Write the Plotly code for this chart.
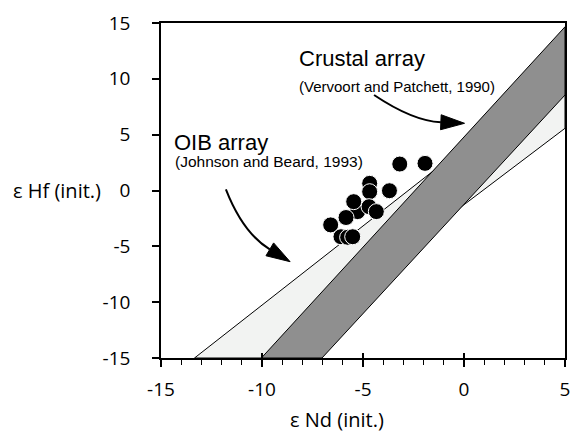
import plotly.graph_objects as go

# --- data -----------------------------------------------------------------
# Sample compositions (initial epsilon Nd / epsilon Hf)
eps_nd = [-3.18, -1.93, -4.67, -4.67, -3.69, -5.27, -5.46, -4.70, -4.34,
          -5.84, -6.60, -6.09, -5.76, -5.51]
eps_hf = [2.37, 2.43, 0.64, -0.11, -0.02, -1.89, -1.00, -1.45, -1.89,
          -2.42, -3.08, -4.14, -4.19, -4.14]

# OIB array (Johnson and Beard, 1993) outline
oib_nd = [-13.34, -10.03, 5.0, 5.0, -13.34]
oib_hf = [-15.0, -15.0, 5.57, 11.0, -15.0]

# Crustal array (Vervoort and Patchett, 1990) outline
crust_nd = [-10.03, -7.03, 5.0, 5.0, -10.03]
crust_hf = [-15.0, -15.0, 8.55, 14.66, -15.0]

x_ticks = [-15, -10, -5, 0, 5]
x_tick_labels = ["-15", "-10", "-5", "0", "5"]
y_ticks = [-15, -10, -5, 0, 5, 10, 15]
y_tick_labels = ["-15", "-10", "-5", "0", "5", "10", "15"]

# --- geometry of the plotting area ------------------------------------------
W, H = 575, 435
ML, MR, MT, MB = 161, 5, 23, 77
X_RANGE = [-15, 5]
Y_RANGE = [-15, 15]
PW, PH = W - ML - MR, H - MT - MB


def to_data(px, py):
    """Convert a page pixel position to axis coordinates."""
    x = X_RANGE[0] + (px - ML) / PW * (X_RANGE[1] - X_RANGE[0])
    y = Y_RANGE[1] - (py - MT) / PH * (Y_RANGE[1] - Y_RANGE[0])
    return x, y


def curved_arrow(start, ctrl, tip, head_len=24, head_half=7.5):
    """Quadratic curve with a slim filled head, built in pixel space."""
    dx, dy = tip[0] - ctrl[0], tip[1] - ctrl[1]
    n = (dx * dx + dy * dy) ** 0.5
    ux, uy = dx / n, dy / n
    base = (tip[0] - ux * head_len, tip[1] - uy * head_len)
    c1 = (base[0] - uy * head_half, base[1] + ux * head_half)
    c2 = (base[0] + uy * head_half, base[1] - ux * head_half)

    def p(pt):
        x, y = to_data(*pt)
        return f"{x:.4f},{y:.4f}"

    curve = dict(type="path", xref="x", yref="y",
                 path=f"M {p(start)} Q {p(ctrl)} {p(base)}",
                 line=dict(color="black", width=2))
    head = dict(type="path", xref="x", yref="y",
                path=f"M {p(c1)} L {p(tip)} L {p(c2)} Z",
                fillcolor="black", line=dict(color="black", width=1))
    return [curve, head]


fig = go.Figure()

fig.add_trace(go.Scatter(
    x=oib_nd, y=oib_hf, mode="lines", fill="toself",
    fillcolor="#f2f3f2", line=dict(color="black", width=1),
    hoverinfo="skip", showlegend=False))

fig.add_trace(go.Scatter(
    x=crust_nd, y=crust_hf, mode="lines", fill="toself",
    fillcolor="#8f8f8f", line=dict(color="black", width=1),
    hoverinfo="skip", showlegend=False))

fig.add_trace(go.Scatter(
    x=eps_nd, y=eps_hf, mode="markers",
    marker=dict(size=16, color="black", line=dict(color="white", width=1)),
    showlegend=False))

# empty trace on the overlay axis that carries the inward half of major ticks
fig.add_trace(go.Scatter(x=[None], y=[None], xaxis="x2", yaxis="y",
                         showlegend=False, hoverinfo="skip"))

tick_font = dict(family="Open Sans", size=19, color="black")
label_font = dict(family="Liberation Sans, Arial", color="black")

shapes = []
shapes += curved_arrow(start=(226.7, 189.3), ctrl=(244.0, 233.0), tip=(291.7, 261.7))
shapes += curved_arrow(start=(376.7, 95.0), ctrl=(416.0, 121.0), tip=(468.3, 123.3))

annotations = [
    dict(x=-8.25, y=11.84, xref="x", yref="y", text="Crustal array",
         xanchor="left", yanchor="middle", showarrow=False,
         font=dict(size=22, **label_font)),
    dict(x=-8.25, y=9.31, xref="x", yref="y", text="(Vervoort and Patchett, 1990)",
         xanchor="left", yanchor="middle", showarrow=False,
         font=dict(size=15, **label_font)),
    dict(x=-14.45, y=4.3, xref="x", yref="y", text="OIB array",
         xanchor="left", yanchor="middle", showarrow=False,
         font=dict(size=22, **label_font)),
    dict(x=-14.4, y=2.6, xref="x", yref="y", text="(Johnson and Beard, 1993)",
         xanchor="left", yanchor="middle", showarrow=False,
         font=dict(size=15.5, **label_font)),
    dict(x=(9 - ML) / PW, y=0, xref="paper", yref="y", text="ε Hf (init.)",
         xanchor="left", yanchor="middle", showarrow=False,
         font=dict(family="Open Sans", size=20, color="black")),
    dict(x=(339 - ML) / PW, y=(H - MB - 419) / PH, xref="paper", yref="paper",
         text="ε Nd (init.)", xanchor="center", yanchor="middle", showarrow=False,
         font=dict(family="Open Sans", size=20, color="black")),
]

fig.update_layout(
    width=W, height=H,
    margin=dict(l=ML, r=MR, t=MT, b=MB),
    paper_bgcolor="white", plot_bgcolor="white",
    showlegend=False,
    shapes=shapes,
    annotations=annotations,
    xaxis=dict(
        range=X_RANGE, tickvals=x_ticks, ticktext=x_tick_labels,
        ticks="outside", ticklen=7, tickwidth=1.5, tickcolor="black",
        minor=dict(dtick=1, tick0=0, ticks="outside", ticklen=5,
                   tickwidth=1.2, tickcolor="black"),
        showline=True, linecolor="black", linewidth=1.5, mirror=True,
        showgrid=False, zeroline=False, tickfont=tick_font,
        ticklabelstandoff=6, fixedrange=True,
    ),
    xaxis2=dict(
        range=X_RANGE, overlaying="x", anchor="y", side="bottom",
        tickvals=x_ticks, ticks="inside", ticklen=5, tickwidth=1.5,
        tickcolor="black", showticklabels=False, showline=False,
        showgrid=False, zeroline=False, fixedrange=True,
    ),
    yaxis=dict(
        range=Y_RANGE, tickvals=y_ticks, ticktext=y_tick_labels,
        ticks="outside", ticklen=7, tickwidth=1.5, tickcolor="black",
        showline=True, linecolor="black", linewidth=1.5, mirror=True,
        showgrid=False, zeroline=False, tickfont=tick_font,
        ticklabelstandoff=18, fixedrange=True,
    ),
)

fig.write_html("out.html")
